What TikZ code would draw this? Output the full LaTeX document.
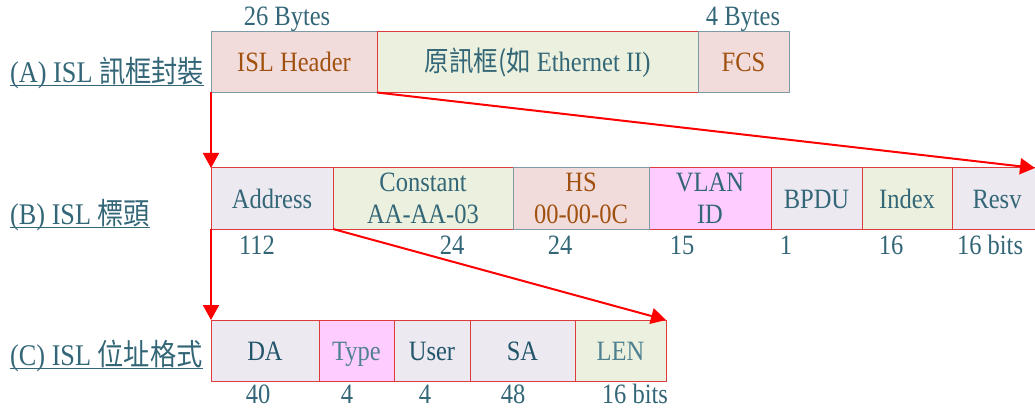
\documentclass[tikz,border=0pt]{standalone}
\usepackage{fontspec}
\setmainfont{Liberation Serif}[FakeStretch=0.875]
\newfontfamily\cjk{Noto Sans CJK TC}[FakeStretch=0.875]
\usetikzlibrary{arrows.meta}

\definecolor{ink}{HTML}{336677}
\definecolor{inkdark}{HTML}{22546A}
\definecolor{inklight}{HTML}{4F8191}
\definecolor{rust}{HTML}{A0500F}
\definecolor{pinkf}{HTML}{F2DCDB}
\definecolor{greenf}{HTML}{EBF1DE}
\definecolor{lavf}{HTML}{ECE9F1}
\definecolor{magf}{HTML}{FFCCFF}
\definecolor{redline}{HTML}{DD3B3B}
\definecolor{slate}{HTML}{7D9AA6}
\definecolor{arrowred}{HTML}{FF0000}

\begin{document}
\begin{tikzpicture}[x=1pt,y=-1pt,
  every node/.style={font=\fontsize{28}{32}\selectfont, text=ink},
  fld/.style={draw=redline, line width=1pt, inner sep=0pt, outer sep=0pt,
              anchor=north west, align=center},
  one/.style={text height=19.5pt, text depth=0pt},
  rowA/.style={fld, minimum height=60.5pt},
  rowB/.style={fld, minimum height=61pt},
  rowC/.style={fld, minimum height=61pt},
  num/.style={anchor=base, inner sep=0pt},
  lbl/.style={anchor=base west, inner sep=0pt, font=\fontsize{30}{32}\selectfont},
  uline/.style={draw=ink, line width=1pt},
  link/.style={draw=arrowred, line width=2pt, -{Triangle[length=15pt,width=16pt]}},
]
\clip (0,0) rectangle (1035,414);

% row labels
\node[lbl] (la) at (10,83) {(A) ISL {\cjk 訊框封裝}};
\node[lbl] (lb) at (10,224) {(B) ISL {\cjk 標頭}};
\node[lbl] (lc) at (10,365) {(C) ISL {\cjk 位址格式}};
\foreach \l in {la,lb,lc}
  \draw[uline] ([yshift=-3pt]\l.base west) -- ([yshift=-3pt]\l.base east);

% (A) frame encapsulation
\node[num] (szhdr) at (287,26) {26 Bytes};
\node[num] (szfcs) at (743,26) {4 Bytes};
\node[rowA, one, fill=pinkf, draw=slate, minimum width=166pt, text=rust] (hdr) at (211,32) {ISL Header};
\node[rowA, one, fill=greenf, minimum width=321pt] (orig) at (377,32) {{\cjk 原訊框(如} Ethernet II)};
\node[rowA, one, fill=pinkf, draw=slate, minimum width=91pt, text=rust] (fcs) at (698,32) {FCS};

% (B) ISL header fields
\node[rowB, one, fill=lavf, minimum width=122pt] (addr) at (211,168) {Address};
\node[rowB, fill=greenf, minimum width=180pt] (const) at (333,168) {Constant\\AA-AA-03};
\node[rowB, fill=magf, minimum width=122pt] (vlan) at (649,168) {VLAN\\ID};
\node[rowB, one, fill=lavf, minimum width=91pt] (bpdu) at (771,168) {BPDU};
\node[rowB, one, fill=greenf, minimum width=90pt] (idx) at (862,168) {Index};
\node[rowB, one, fill=lavf, minimum width=90pt] (resv) at (952,168) {Resv};
\node[rowB, fill=pinkf, draw=slate, minimum width=136pt, text=rust] (hs) at (513,168) {HS\\00-00-0C};

\node[num] (nb1) at (257,254) {112};
\node[num] (nb2) at (452,254) {24};
\node[num] (nb3) at (560,254) {24};
\node[num] (nb4) at (682,254) {15};
\node[num] (nb5) at (786,254) {1};
\node[num] (nb6) at (891,254) {16};
\node[num] (nb7) at (990,254) {16 bits};

% (C) address format
\node[rowC, one, fill=lavf, minimum width=108pt, text=inkdark] (da) at (211,320) {DA};
\node[rowC, one, fill=magf, minimum width=75pt, text=inklight] (type) at (319,320) {Type};
\node[rowC, one, fill=lavf, minimum width=76pt, text=inkdark] (user) at (394,320) {User};
\node[rowC, one, fill=lavf, minimum width=105pt, text=inkdark] (sa) at (470,320) {SA};
\node[rowC, one, fill=greenf, minimum width=91pt, text=inklight] (len) at (575,320) {LEN};

\node[num] (nc1) at (258,403) {40};
\node[num] (nc2) at (347,403) {4};
\node[num] (nc3) at (425,403) {4};
\node[num] (nc4) at (513,403) {48};
\node[num] (nc5) at (635,403) {16 bits};

% expansion arrows
\coordinate (edgeB) at (1035,168);
\draw[link] (hdr.south west) -- (addr.north west);
\draw[link] (hdr.south east) -- (edgeB);
\draw[link] (addr.south west) -- (da.north west);
\draw[link] (addr.south east) -- (len.north east);
\end{tikzpicture}
\end{document}
